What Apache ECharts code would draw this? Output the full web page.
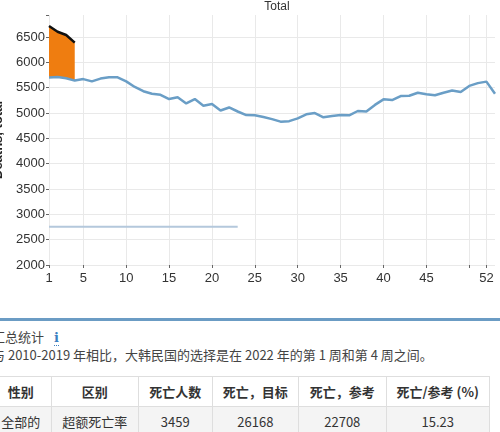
<!DOCTYPE html>
<html>
<head>
<meta charset="utf-8">
<script src="https://cdn.jsdelivr.net/npm/echarts@6/dist/echarts.min.js"></script>
<style>
  body { margin: 0; width: 500px; height: 432px; overflow: hidden; background: #fff; position: relative; font-family: "Noto Sans CJK SC", sans-serif; color: #444; }
  #chart { position: absolute; left: 0; top: 0; width: 500px; height: 300px; }
  .rule { position: absolute; left: 0; top: 318px; width: 500px; height: 3px; background: #6b9cc4; }
  .head { position: absolute; left: -8px; top: 328px; font-size: 13px; line-height: 18px; white-space: nowrap; }
  .info { color: #3b7fc0; font-weight: bold; margin-left: 10px; border-bottom: 1px dotted #3b7fc0; font-family: "DejaVu Serif", serif; }
  .note { position: absolute; left: -8px; top: 346px; font-size: 13px; line-height: 18px; white-space: nowrap; }
  table { position: absolute; left: -10px; top: 376px; border-collapse: collapse; font-size: 13px; }
  td, th { border: 1px solid #dedede; text-align: center; height: 29px; padding: 0; color: #333; }
  th { font-weight: bold; background: #fff; }
  tr.row td { background: #f4f4f4; }
</style>
</head>
<body>
<div id="chart"></div>
<div class="rule"></div>
<div class="head">汇总统计<span class="info">i</span></div>
<div class="note">与 2010-2019 年相比，大韩民国的选择是在 2022 年的第 1 周和第 4 周之间。</div>
<table id="tbl"></table>
<script>
// weeks 1..53
const weeks = []
for (let i = 1; i <= 53; i++) weeks.push(String(i))

// blue line (reference/expected deaths)
const expected = [
  5703, 5710, 5685, 5640, 5670, 5625, 5680, 5705, 5705, 5625,
  5515, 5430, 5380, 5360, 5275, 5310, 5190, 5275, 5145, 5180,
  5050, 5110, 5030, 4960, 4955, 4920, 4880, 4830, 4840, 4895,
  4975, 5000, 4915, 4940, 4960, 4955, 5040, 5030, 5160, 5270,
  5255, 5335, 5340, 5400, 5370, 5350, 5400, 5445, 5415, 5535,
  5590, 5620, 5380
]
// black line, observed 2022 (weeks 1-4)
const observed = [6717, 6605, 6540, 6390]
// light flat line, weeks 1-23
const lowLine = [
  2757, 2757, 2757, 2757, 2757, 2757, 2757, 2757, 2757, 2757,
  2757, 2757, 2757, 2757, 2757, 2757, 2757, 2757, 2757, 2757,
  2757, 2757, 2757
]
const labelWeeks = [1, 5, 10, 15, 20, 25, 30, 35, 40, 45, 52]
const tickWeeks = [1, 5, 10, 15, 20, 25, 30, 35, 40, 45, 50, 52]

// table
const tableHead = ['性别', '区别', '死亡人数', '死亡，目标', '死亡，参考', '死亡/参考 (%)']
const tableRow = ['全部的', '超额死亡率', '3459', '26168', '22708', '15.23']
const colWidths = [62, 90, 75, 88, 89, 106]

const base = observed.map((v, i) => expected[i])
const excess = observed.map((v, i) => v - expected[i])

const axisFont = { fontFamily: 'Liberation Sans', fontSize: 13, color: '#333' }
const gridColor = '#e9e9e9'

const option = {
  animation: false,
  title: {
    text: 'Total',
    left: 272,
    top: -4,
    textAlign: 'center',
    textStyle: { fontFamily: 'Liberation Sans', fontSize: 12, fontWeight: 'normal', color: '#333' }
  },
  grid: { left: 49, right: 5, top: 15, bottom: 35, containLabel: false, outerBoundsMode: 'none' },
  xAxis: {
    type: 'category',
    boundaryGap: false,
    data: weeks,
    axisLine: { show: false },
    axisTick: {
      show: true,
      length: 3,
      interval: (i, v) => tickWeeks.includes(+v),
      lineStyle: { color: '#666' }
    },
    axisLabel: {
      ...axisFont,
      margin: 7,
      interval: (i, v) => labelWeeks.includes(+v)
    },
    splitLine: {
      show: true,
      interval: (i, v) => tickWeeks.includes(+v),
      lineStyle: { color: gridColor }
    }
  },
  yAxis: {
    type: 'value',
    min: 2000,
    max: 6935,
    interval: 500,
    name: 'Deaths, total',
    nameLocation: 'middle',
    nameGap: 42,
    nameTextStyle: { fontFamily: 'Liberation Sans', fontSize: 13, fontWeight: 'bold', color: '#222' },
    axisLine: { show: false },
    axisTick: { show: true, length: 3, lineStyle: { color: '#666' } },
    axisLabel: { ...axisFont, margin: 4, formatter: v => (v % 500 ? '' : v) },
    splitLine: {
      show: true,
      lineStyle: { color: [gridColor, gridColor, gridColor, gridColor, gridColor, gridColor, gridColor, gridColor, gridColor, gridColor, 'rgba(0,0,0,0)'] }
    }
  },
  series: [
    {
      type: 'line',
      data: lowLine,
      symbol: 'none',
      lineStyle: { color: '#b4c8dc', width: 2 },
      z: 1
    },
    {
      type: 'line',
      data: base,
      stack: 'ex',
      symbol: 'none',
      lineStyle: { width: 0 },
      z: 2
    },
    {
      type: 'line',
      data: excess,
      stack: 'ex',
      symbol: 'none',
      lineStyle: { width: 0 },
      areaStyle: { color: '#ef7d10', opacity: 1 },
      z: 2
    },
    {
      type: 'line',
      data: observed,
      symbol: 'none',
      lineStyle: { color: '#111', width: 2.5 },
      z: 4
    },
    {
      type: 'line',
      data: expected,
      symbol: 'none',
      lineStyle: { color: '#6a9ec6', width: 2.5 },
      z: 3
    }
  ]
}

const chart = echarts.init(document.getElementById('chart'))
chart.setOption(option)

// build table
const tbl = document.getElementById('tbl')
let html = '<tr>' + tableHead.map((h, i) => `<th style="width:${colWidths[i]}px">${h}</th>`).join('') + '</tr>'
html += '<tr class="row">' + tableRow.map(c => `<td>${c}</td>`).join('') + '</tr>'
tbl.innerHTML = html
</script>
</body>
</html>
